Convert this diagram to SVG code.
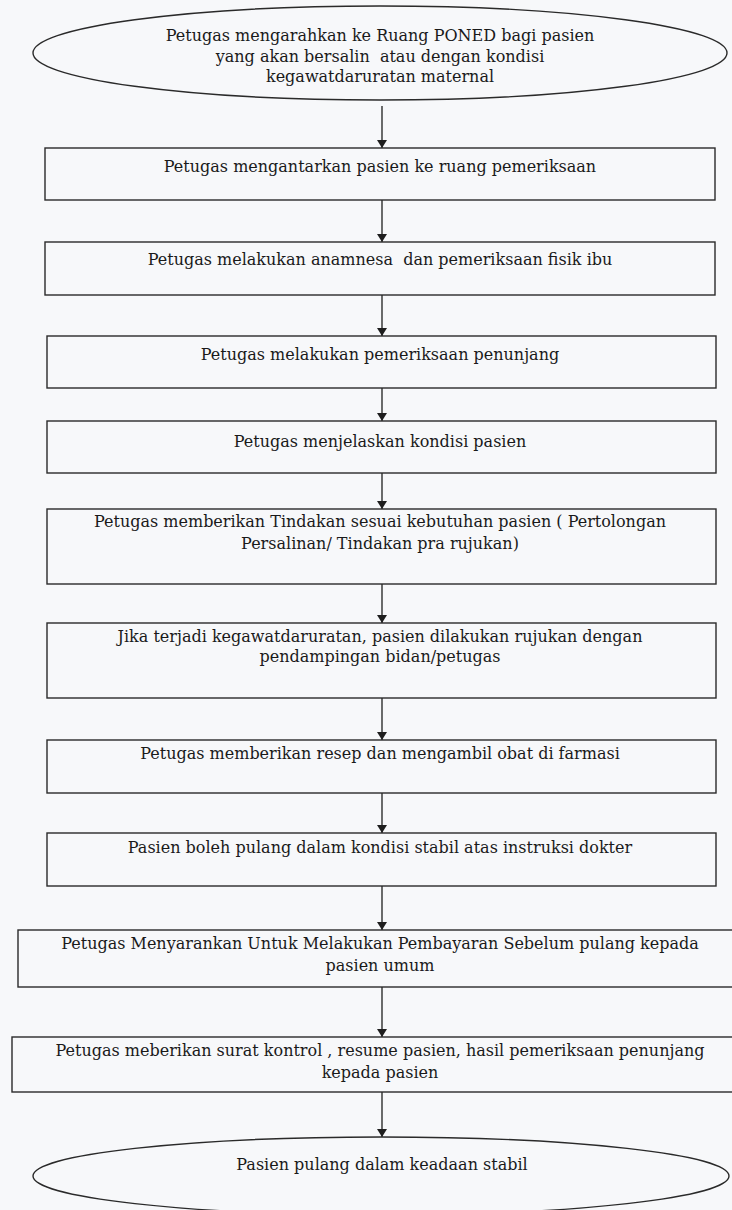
<svg xmlns="http://www.w3.org/2000/svg" width="732" height="1210" viewBox="0 0 732 1210">
<style>
  .bg { fill: #f7f8fa; }
  .shape { fill: none; stroke: #2a2a2a; stroke-width: 1.4; }
  .conn { stroke: #1e1e1e; stroke-width: 1.3; fill: none; }
  text { font-family: "DejaVu Serif", "Liberation Serif", serif; font-size: 16px; fill: #1a1a1a; text-anchor: middle; }
  .pre { white-space: pre; }
</style>
<defs>
  <marker id="arrow" viewBox="0 0 8 10" refX="8" refY="5" markerWidth="8" markerHeight="10" markerUnits="userSpaceOnUse" orient="auto">
    <path d="M0,0 L8,5 L0,10 z" fill="#1e1e1e"/>
  </marker>
</defs>
<rect class="bg" x="0" y="0" width="732" height="1210"/>

<g id="connectors">
  <line class="conn" x1="382" y1="106" x2="382" y2="148" marker-end="url(#arrow)"/>
  <line class="conn" x1="382" y1="200" x2="382" y2="242" marker-end="url(#arrow)"/>
  <line class="conn" x1="382" y1="295" x2="382" y2="336" marker-end="url(#arrow)"/>
  <line class="conn" x1="382" y1="388" x2="382" y2="421" marker-end="url(#arrow)"/>
  <line class="conn" x1="382" y1="473" x2="382" y2="509" marker-end="url(#arrow)"/>
  <line class="conn" x1="382" y1="584" x2="382" y2="623" marker-end="url(#arrow)"/>
  <line class="conn" x1="382" y1="698" x2="382" y2="740" marker-end="url(#arrow)"/>
  <line class="conn" x1="382" y1="793" x2="382" y2="833" marker-end="url(#arrow)"/>
  <line class="conn" x1="382" y1="886" x2="382" y2="930" marker-end="url(#arrow)"/>
  <line class="conn" x1="382" y1="987" x2="382" y2="1037" marker-end="url(#arrow)"/>
  <line class="conn" x1="382" y1="1092" x2="382" y2="1137" marker-end="url(#arrow)"/>
</g>

<g id="start">
  <ellipse class="shape" cx="380" cy="53" rx="347" ry="47"/>
  <text x="380" y="41">Petugas mengarahkan ke Ruang PONED bagi pasien</text>
  <text class="pre" x="380" y="62">yang akan bersalin  atau dengan kondisi</text>
  <text x="380" y="82">kegawatdaruratan maternal</text>
</g>

<g id="step1">
  <rect class="shape" x="45" y="148" width="670" height="52"/>
  <text x="380" y="172">Petugas mengantarkan pasien ke ruang pemeriksaan</text>
</g>

<g id="step2">
  <rect class="shape" x="45" y="242" width="670" height="53"/>
  <text class="pre" x="380" y="265">Petugas melakukan anamnesa  dan pemeriksaan fisik ibu</text>
</g>

<g id="step3">
  <rect class="shape" x="47" y="336" width="669" height="52"/>
  <text x="380" y="360">Petugas melakukan pemeriksaan penunjang</text>
</g>

<g id="step4">
  <rect class="shape" x="47" y="421" width="669" height="52"/>
  <text x="380" y="447">Petugas menjelaskan kondisi pasien</text>
</g>

<g id="step5">
  <rect class="shape" x="47" y="509" width="669" height="75"/>
  <text x="380" y="527">Petugas memberikan Tindakan sesuai kebutuhan pasien ( Pertolongan</text>
  <text x="380" y="549">Persalinan/ Tindakan pra rujukan)</text>
</g>

<g id="step6">
  <rect class="shape" x="47" y="623" width="669" height="75"/>
  <text x="380" y="642">Jika terjadi kegawatdaruratan, pasien dilakukan rujukan dengan</text>
  <text x="380" y="662">pendampingan bidan/petugas</text>
</g>

<g id="step7">
  <rect class="shape" x="47" y="740" width="669" height="53"/>
  <text x="380" y="759">Petugas memberikan resep dan mengambil obat di farmasi</text>
</g>

<g id="step8">
  <rect class="shape" x="47" y="833" width="669" height="53"/>
  <text x="380" y="853">Pasien boleh pulang dalam kondisi stabil atas instruksi dokter</text>
</g>

<g id="step9">
  <rect class="shape" x="18" y="930" width="730" height="57"/>
  <text x="380" y="949">Petugas Menyarankan Untuk Melakukan Pembayaran Sebelum pulang kepada</text>
  <text x="380" y="971">pasien umum</text>
</g>

<g id="step10">
  <rect class="shape" x="12" y="1037" width="736" height="55"/>
  <text x="380" y="1056">Petugas meberikan surat kontrol , resume pasien, hasil pemeriksaan penunjang</text>
  <text x="380" y="1078">kepada pasien</text>
</g>

<g id="end">
  <ellipse class="shape" cx="381" cy="1176" rx="348" ry="39"/>
  <text x="382" y="1170">Pasien pulang dalam keadaan stabil</text>
</g>
</svg>
